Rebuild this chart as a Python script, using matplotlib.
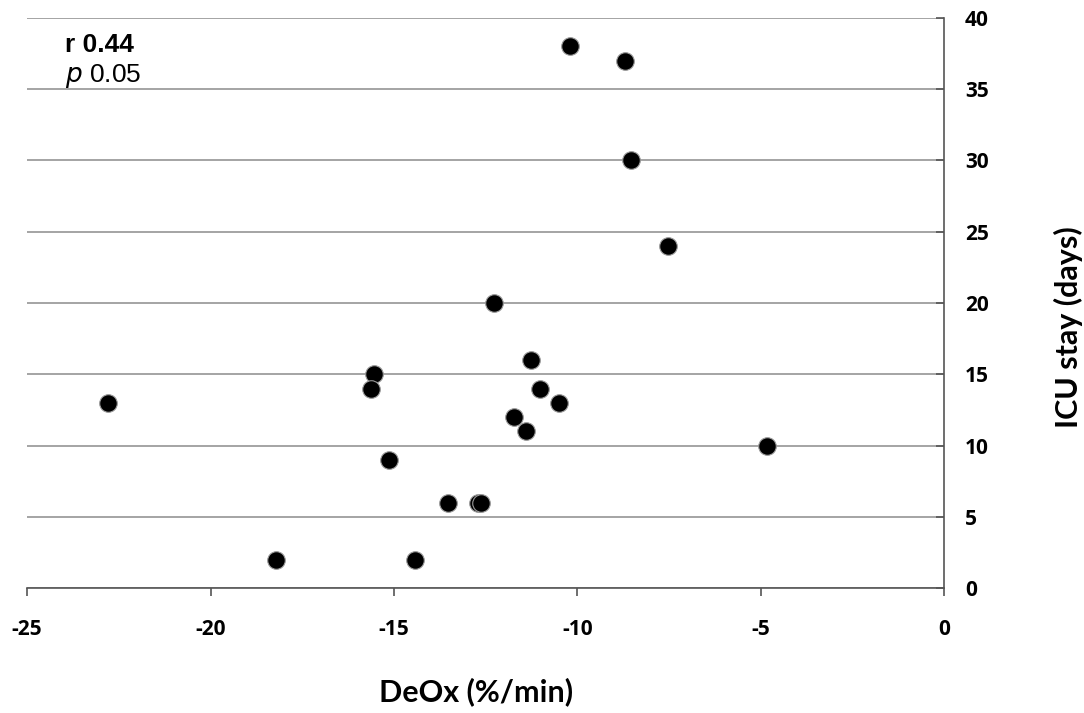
import matplotlib.pyplot as plt

deox = [-10.20, -8.70, -8.53, -7.52, -12.27, -11.26, -15.54, -15.62, -11.01, -10.50,
        -22.79, -11.72, -11.40, -4.83, -15.13, -13.52, -12.70, -12.62, -18.21, -14.42]
icu_days = [38, 37, 30, 24, 20, 16, 15, 14, 14, 13,
            13, 12, 11, 10, 9, 6, 6, 6, 2, 2]

x_ticks = [-25, -20, -15, -10, -5, 0]
x_labels = ['-25', '-20', '-15', '-10', '-5', '0']
y_ticks = [0, 5, 10, 15, 20, 25, 30, 35, 40]

fig = plt.figure(figsize=(10.84, 7.13), dpi=100)
ax = fig.add_axes([0.025, 0.175, 0.846, 0.800])

ax.scatter(deox, icu_days, s=160, c='black', edgecolors='#999999', linewidths=0.8, zorder=3)

ax.set_xlim(-25, 0)
ax.set_ylim(0, 40)
ax.set_xticks(x_ticks)
ax.set_xticklabels(x_labels)
ax.set_yticks(y_ticks)

ax.yaxis.tick_right()
ax.yaxis.set_label_position('right')
ax.grid(axis='y', color='#8c8c8c', linewidth=1.1, zorder=0)
ax.set_axisbelow(True)

for side in ['left', 'top']:
    ax.spines[side].set_visible(False)
ax.spines['bottom'].set_color('#555555')
ax.spines['right'].set_color('#555555')
ax.spines['bottom'].set_linewidth(1.2)
ax.spines['right'].set_linewidth(1.2)

ax.tick_params(axis='x', direction='out', length=6, width=1.2, color='#555555', pad=16,
               labelsize=15)
ax.tick_params(axis='y', direction='in', length=6, width=1.2, color='#555555', pad=15,
               labelsize=15)
for lab in ax.get_xticklabels() + ax.get_yticklabels():
    lab.set_fontfamily('Open Sans')
    lab.set_fontweight('bold')
for lab in ax.get_yticklabels():
    lab.set_horizontalalignment('left')

ax.set_xlabel('DeOx (%/min)', fontfamily='Lato', fontweight='bold', fontsize=22)
ax.xaxis.set_label_coords(0.49, -0.182)
ax.xaxis.label.set_verticalalignment('center')
ax.set_ylabel('ICU stay (days)', fontfamily='Lato', fontweight='bold', fontsize=22,
              rotation=90)
ax.yaxis.set_label_coords(1.135, 0.457)
ax.yaxis.label.set_verticalalignment('center')

ax.text(0.041, 0.953, 'r 0.44', transform=ax.transAxes, fontfamily='Liberation Sans',
        fontweight='bold', fontsize=19, va='center')
ax.text(0.041, 0.898, '$\\it{p}$ 0.05', transform=ax.transAxes, fontfamily='Liberation Sans',
        fontsize=19, va='center')

fig.savefig('out.png', dpi=100)
